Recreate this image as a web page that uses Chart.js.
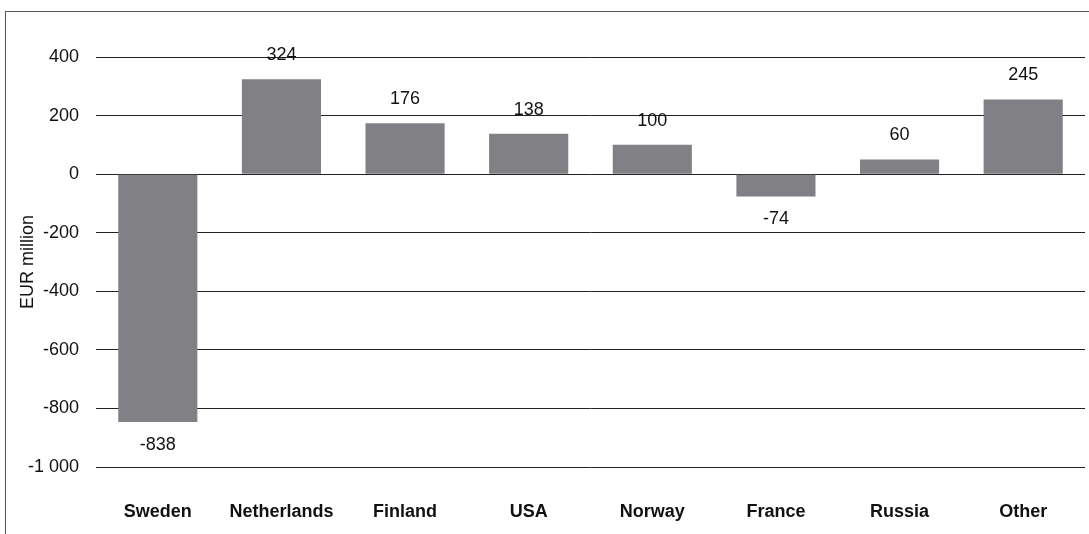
<!DOCTYPE html>
<html>
<head>
<meta charset="utf-8">
<script src="https://cdn.jsdelivr.net/npm/chart.js@4"></script>
<style>
  html, body { margin: 0; padding: 0; background: #fff; }
  #wrap { position: relative; width: 1089px; height: 534px; overflow: hidden; }
  #frame {
    position: absolute; left: 5px; top: 11px; right: -2px; bottom: -2px;
    border-top: 1px solid #555; border-left: 1px solid #555;
  }
  #chart { position: absolute; left: 0; top: 0; }
</style>
</head>
<body>
<div id="wrap">
  <div id="frame"></div>
  <canvas id="chart" width="1089" height="534"></canvas>
</div>
<script>
// ------------------------------
// Data
// ------------------------------
const countries = ["Sweden", "Netherlands", "Finland", "USA", "Norway", "France", "Russia", "Other"];
const barValues = [-846, 324, 174, 138, 100, -76, 50, 255];
const valueLabels = ["-838", "324", "176", "138", "100", "-74", "60", "245"];
const yTicks = [400, 200, 0, -200, -400, -600, -800, -1000];

const FONT = "'Liberation Sans', Arial, Helvetica, sans-serif";

function fmt(v) {
    return String(v).replace(/\B(?=(\d{3})+(?!\d))/g, " ");
}

// ------------------------------
// Value labels above / below bars
// ------------------------------
const valueLabelPlugin = {
    id: "valueLabels",
    afterDatasetsDraw(chart) {
        const ctx = chart.ctx;
        const meta = chart.getDatasetMeta(0);
        ctx.save();
        ctx.font = "18px " + FONT;
        ctx.fillStyle = "#111";
        ctx.textAlign = "center";
        ctx.textBaseline = "middle";
        meta.data.forEach((bar, i) => {
            const v = barValues[i];
            const y = v >= 0 ? bar.y - 24 : bar.y + 23;
            ctx.fillText(valueLabels[i], bar.x, y);
        });
        ctx.restore();
    }
};

// ------------------------------
// Bar Chart
// ------------------------------
new Chart(document.getElementById("chart"), {
    type: "bar",
    data: {
        labels: countries,
        datasets: [{
            data: barValues,
            backgroundColor: "#818185",
            borderWidth: 0,
            barPercentage: 0.64,
            categoryPercentage: 1
        }]
    },
    options: {
        responsive: false,
        animation: false,
        layout: { padding: { left: 0, top: 57, right: 4, bottom: 0 } },
        plugins: {
            legend: { display: false },
            tooltip: { enabled: false }
        },
        scales: {
            x: {
                grid: { display: false },
                border: { display: false },
                ticks: {
                    color: "#111",
                    font: { family: FONT, size: 18, weight: "bold" },
                    padding: 26,
                    maxRotation: 0
                },
                afterFit(scale) { scale.height = 67; }
            },
            y: {
                min: -1000,
                max: 400,
                afterBuildTicks(scale) {
                    scale.ticks = yTicks.map(v => ({ value: v }));
                },
                grid: {
                    color: "#222",
                    lineWidth: 1,
                    drawTicks: false
                },
                border: { display: false },
                ticks: {
                    color: "#111",
                    font: { family: FONT, size: 18 },
                    padding: 17,
                    callback: v => fmt(v)
                },
                title: {
                    display: true,
                    text: "EUR million",
                    color: "#111",
                    font: { family: FONT, size: 18 },
                    padding: { top: 17, bottom: 0 }
                },
                afterFit(scale) { scale.width = 96; }
            }
        }
    },
    plugins: [valueLabelPlugin]
});
</script>
</body>
</html>
